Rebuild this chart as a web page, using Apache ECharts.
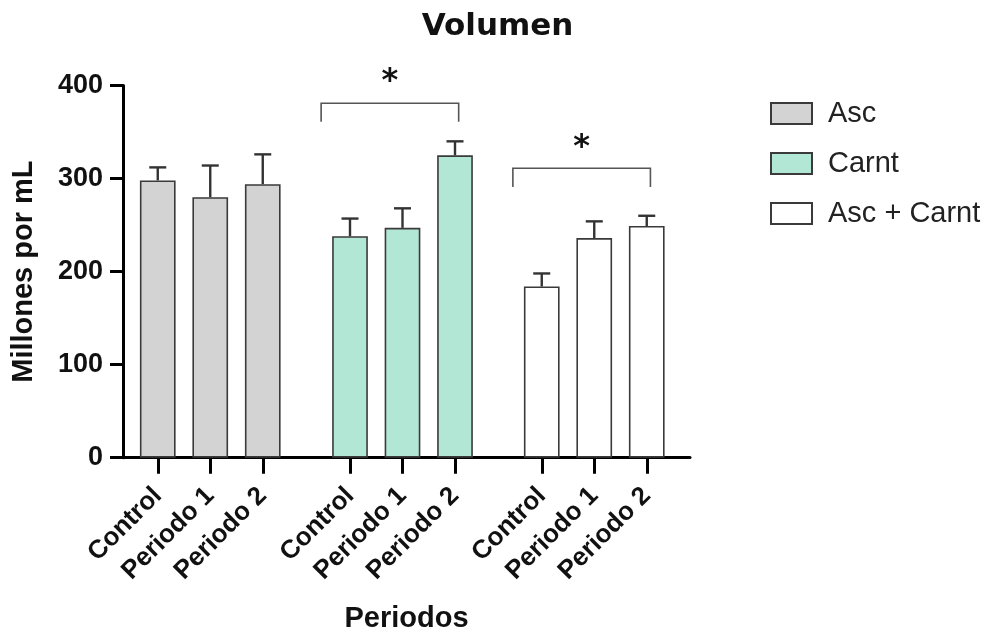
<!DOCTYPE html>
<html>
<head>
<meta charset="utf-8">
<script src="https://cdn.jsdelivr.net/npm/echarts@6/dist/echarts.min.js"></script>
<style>
html,body{margin:0;padding:0;background:#fff;}
#chart{width:995px;height:633px;}
</style>
</head>
<body>
<div id="chart"></div>
<script>
// ---- data ----
const groups = ['Asc', 'Carnt', 'Asc + Carnt'];
const periods = ['Control', 'Periodo 1', 'Periodo 2'];
const ascMean = [298, 280, 294];
const ascErr = [14, 34, 32];
const carntMean = [238, 247, 325];
const carntErr = [19, 21, 15];
const ascCarntMean = [184, 236, 249];
const ascCarntErr = [14, 18, 11];
const yTicks = [0, 100, 200, 300, 400];
// significance brackets
const sigGroup = [1, 2];
const sigFrom = [0, 0];
const sigTo = [2, 2];
const sigTop = [381, 311];
const sigLeg = [361, 291];
const sigLabel = ['*', '*'];

const means = [ascMean, carntMean, ascCarntMean];
const errs = [ascErr, carntErr, ascCarntErr];
const fills = ['#d3d3d3', '#b3e7d5', '#ffffff'];
const border = '#3a3a3a';
const FONT = 'Liberation Sans';

const chart = echarts.init(document.getElementById('chart'));

const plotTop = 85.5, plotH = 372.2;
const gridLefts = [131.5, 323.75, 515.5];
const bandW = 52.5;

const grids = [{left: 123, width: 567, top: plotTop, height: plotH, outerBoundsMode: 'none', containLabel: false}];
const xAxes = [{
  gridIndex: 0, type: 'category', data: [''],
  axisLine: {show: true, lineStyle: {color: '#000', width: 3}},
  axisTick: {show: false}, axisLabel: {show: false},
  name: 'Periodos', nameLocation: 'middle', nameGap: 147,
  nameTextStyle: {fontFamily: FONT, fontWeight: 'bold', fontSize: 29, color: '#111'}
}];
const yAxes = [{
  gridIndex: 0, type: 'value', min: 0, max: 400, interval: 100,
  axisLine: {show: true, lineStyle: {color: '#000', width: 3}},
  axisTick: {show: true, length: 13, lineStyle: {color: '#000', width: 3}},
  splitLine: {show: false},
  axisLabel: {fontFamily: FONT, fontWeight: 'bold', fontSize: 27, color: '#111', margin: 20,
    formatter: v => yTicks.includes(v) ? String(v) : ''},
  name: 'Millones por mL', nameLocation: 'middle', nameGap: 85, nameRotate: 90,
  nameTextStyle: {fontFamily: FONT, fontWeight: 'bold', fontSize: 29, color: '#111'}
}];
const series = [];

groups.forEach((g, gi) => {
  const idx = gi + 1;
  grids.push({left: gridLefts[gi], width: bandW * 3, top: plotTop, height: plotH, outerBoundsMode: 'none', containLabel: false});
  xAxes.push({
    gridIndex: idx, type: 'category', data: periods,
    axisLine: {show: false},
    axisTick: {show: true, alignWithLabel: true, length: 16, lineStyle: {color: '#000', width: 3}},
    axisLabel: {interval: 0, rotate: 45, margin: 34, fontFamily: FONT, fontWeight: 'bold', fontSize: 26, color: '#111'}
  });
  yAxes.push({gridIndex: idx, type: 'value', min: 0, max: 400, interval: 100, show: false, splitLine: {show: false}});
  series.push({
    name: g, type: 'bar', xAxisIndex: idx, yAxisIndex: idx,
    data: means[gi], barWidth: '68%',
    itemStyle: {color: fills[gi], borderColor: border, borderWidth: 1.6},
    z: 2
  });
  series.push({
    name: g + ' err', type: 'custom', xAxisIndex: idx, yAxisIndex: idx, z: 3,
    data: means[gi].map((m, i) => [i, m, m + errs[gi][i]]),
    renderItem: (params, api) => {
      const b = api.coord([api.value(0), api.value(1)]);
      const t = api.coord([api.value(0), api.value(2)]);
      const st = {stroke: '#333', lineWidth: 2.4};
      return {type: 'group', children: [
        {type: 'line', shape: {x1: b[0], y1: b[1], x2: t[0], y2: t[1]}, style: st},
        {type: 'line', shape: {x1: t[0] - 8.5, y1: t[1], x2: t[0] + 8.5, y2: t[1]}, style: st}
      ]};
    }
  });
});

sigGroup.forEach((gi, k) => {
  const idx = gi + 1;
  series.push({
    name: 'sig' + k, type: 'custom', xAxisIndex: idx, yAxisIndex: idx, z: 4,
    data: [[sigFrom[k], sigTo[k], sigTop[k], sigLeg[k]]],
    renderItem: (params, api) => {
      const band = api.size([1, 0])[0];
      const l = api.coord([api.value(0), api.value(2)]);
      const r = api.coord([api.value(1), api.value(2)]);
      const lb = api.coord([api.value(0), api.value(3)]);
      const x1 = l[0] - 0.55 * band, x2 = r[0] + 0.07 * band;
      const st = {stroke: '#555', lineWidth: 1.6, fill: null};
      return {type: 'group', children: [
        {type: 'polyline', shape: {points: [[x1, lb[1]], [x1, l[1]], [x2, l[1]], [x2, lb[1]]]}, style: st},
        {type: 'text', style: {text: sigLabel[k], x: (x1 + x2) / 2, y: l[1] - 21,
          align: 'center', verticalAlign: 'middle', fontFamily: 'DejaVu Sans', fontWeight: 'bold', fontSize: 32, fill: '#111'}}
      ]};
    }
  });
});

chart.setOption({
  backgroundColor: '#fff',
  animation: false,
  title: {text: 'Volumen', left: 'center', top: 6,
    textStyle: {fontFamily: 'DejaVu Sans', fontWeight: 'bold', fontSize: 31, color: '#111'}},
  legend: {
    data: groups, orient: 'vertical', left: 765, top: 94,
    icon: 'rect',
    itemWidth: 41, itemHeight: 21, itemGap: 21,
    textStyle: {fontFamily: FONT, fontSize: 29, color: '#222', padding: [0, 0, 0, 11]}
  },
  grid: grids, xAxis: xAxes, yAxis: yAxes, series: series
});
</script>
</body>
</html>
